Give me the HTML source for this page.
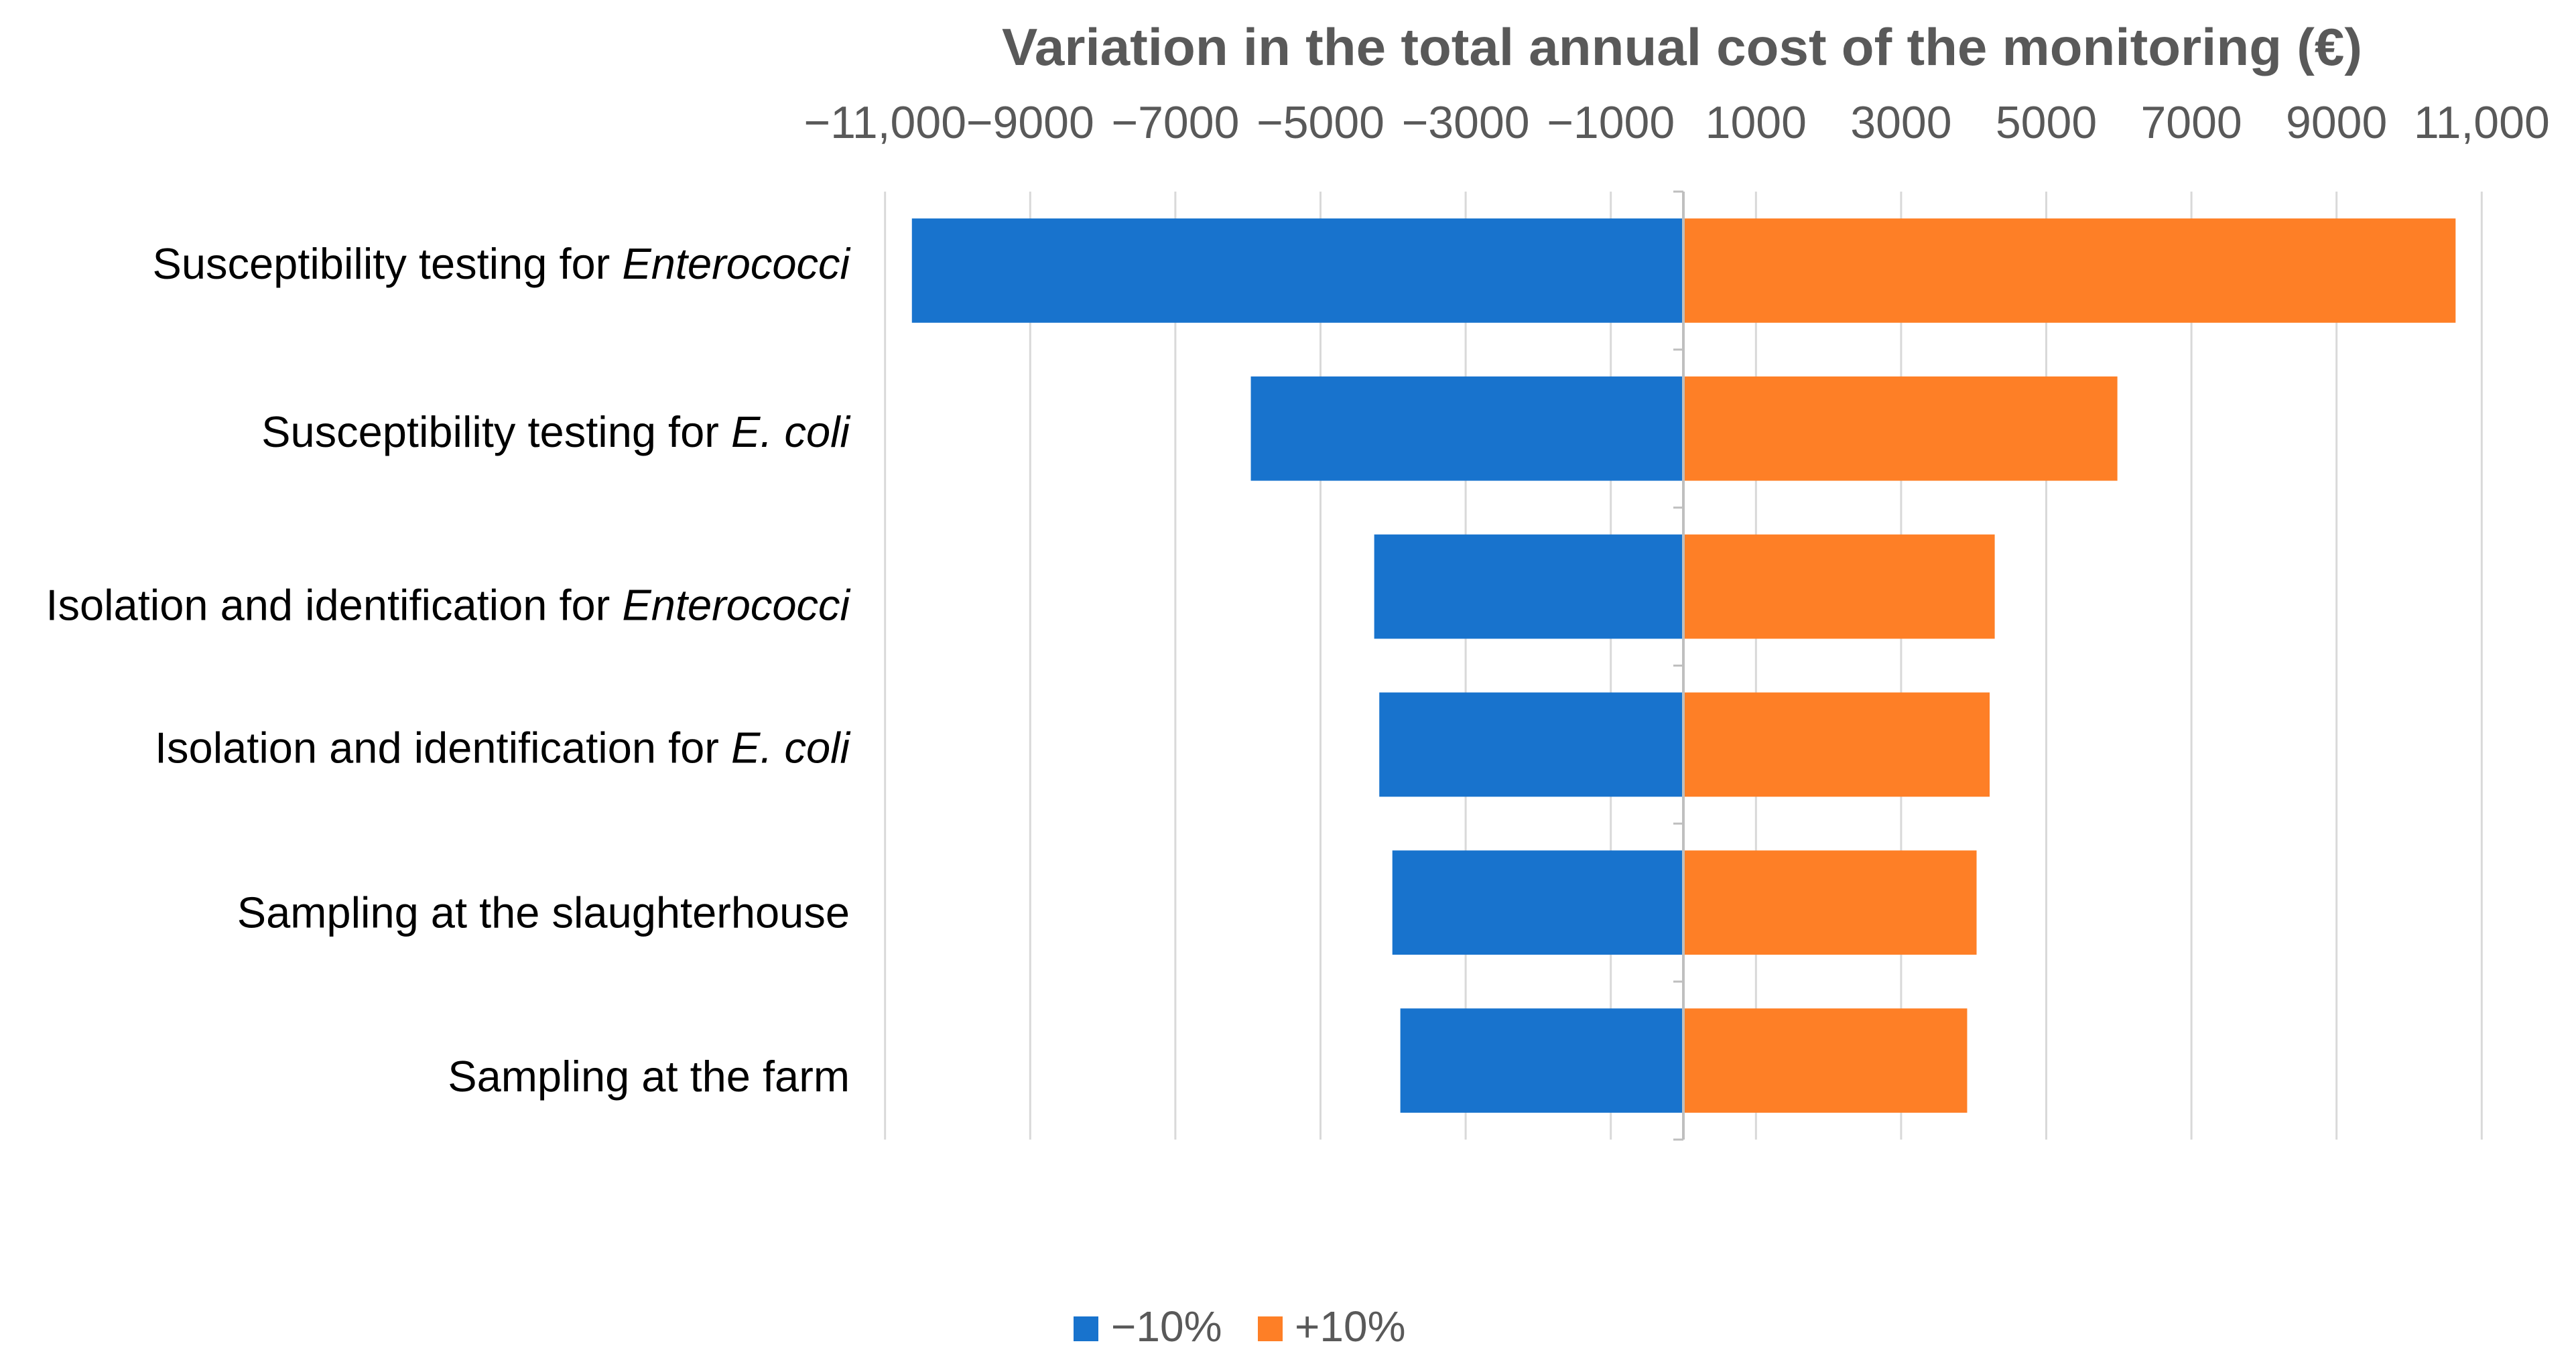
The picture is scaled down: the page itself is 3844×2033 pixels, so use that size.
<!DOCTYPE html>
<html><head><meta charset="utf-8"><style>
html,body{margin:0;padding:0;background:#fff;}
svg{display:block;}
</style></head><body>
<svg id="chart" width="3844" height="2033" viewBox="0 0 3844 2033" xmlns="http://www.w3.org/2000/svg">
<rect width="3844" height="2033" fill="#fff"/>
<text x="2510" y="97" text-anchor="middle" font-family="Liberation Sans, sans-serif" font-weight="bold" font-size="78" fill="#595959" textLength="2030" lengthAdjust="spacingAndGlyphs">Variation in the total annual cost of the monitoring (€)</text>
<g id="grid"></g>
<g id="xticks"></g>
<g id="bars"></g>
<g id="axis"></g>
<g id="cats"></g>
<g>
<g>
<rect x="1602" y="1965" width="37" height="37" fill="#1873CD"/>
<text x="1658" y="2002" font-family="Liberation Sans, sans-serif" font-size="64" fill="#595959">−10%</text>
</g>
<g>
<rect x="1877" y="1965" width="37" height="37" fill="#FE7F26"/>
<text x="1932" y="2002" font-family="Liberation Sans, sans-serif" font-size="64" fill="#595959">+10%</text>
</g>
</g>
</svg>
<script>
const categories = ["Susceptibility testing for |Enterococci", "Susceptibility testing for |E. coli", "Isolation and identification for |Enterococci", "Isolation and identification for |E. coli", "Sampling at the slaughterhouse|", "Sampling at the farm|"];
const minusValues = [-10630, -5960, -4260, -4190, -4010, -3900];
const plusValues = [10640, 5980, 4290, 4220, 4040, 3910];
const tickValues = [-11000, -9000, -7000, -5000, -3000, -1000, 1000, 3000, 5000, 7000, 9000, 11000];
const tickLabels = ["−11,000", "−9000", "−7000", "−5000", "−3000", "−1000", "1000", "3000", "5000", "7000", "9000", "11,000"];

const NS = "http://www.w3.org/2000/svg";
const X0 = 2512, PXU = 0.1083;
const plotTop = 286, plotBottom = 1701;
const band = (plotBottom - plotTop) / categories.length;
const barH = band * 0.66;
const labelShift = [0, 15, 38, 15, 25, 34];
function x(v){ return X0 + v * PXU; }
function yBand(i){ return plotTop + i * band; }
function mk(tag, attrs, parent){ const e = document.createElementNS(NS, tag); for (const k in attrs) e.setAttribute(k, attrs[k]); parent.appendChild(e); return e; }

const grid = document.getElementById('grid');
const xt = document.getElementById('xticks');
tickValues.forEach((v, i) => {
  const l = mk('line', {x1: x(v), x2: x(v), y1: plotTop, y2: plotBottom, stroke: '#d9d9d9', 'stroke-width': 3}, grid);
  
  
  const t = mk('text', {x: x(v), y: 206, 'text-anchor': 'middle', 'font-family': 'Liberation Sans, sans-serif', 'font-size': 68, fill: '#595959'}, xt);
  t.textContent = tickLabels[i];
  
  
});

const bars = document.getElementById('bars');
const cats = document.getElementById('cats');
categories.forEach((c, i) => {
  const y = yBand(i) + (band - barH) / 2;
  const b1 = mk('rect', {x: x(minusValues[i]), y: y, width: x(0) - x(minusValues[i]), height: barH, fill: '#1873CD'}, bars);
  
  
  const b2 = mk('rect', {x: x(0), y: y, width: x(plusValues[i]) - x(0), height: barH, fill: '#FE7F26'}, bars);
  
  
  const parts = c.split('|');
  const t = mk('text', {x: 1268, y: yBand(i) + band / 2 + 12 + labelShift[i], 'text-anchor': 'end', 'font-family': 'Liberation Sans, sans-serif', 'font-size': 65, fill: '#000'}, cats);
  
  
  const s1 = mk('tspan', {}, t); s1.textContent = parts[0];
  if (parts[1]) { const s2 = mk('tspan', {'font-style': 'italic'}, t); s2.textContent = parts[1]; }
});

const axis = document.getElementById('axis');
const al = mk('line', {x1: X0, x2: X0, y1: plotTop, y2: plotBottom, stroke: '#bfbfbf', 'stroke-width': 4}, axis);


for (let i = 0; i <= categories.length; i++) {
  const tk = mk('line', {x1: X0 - 15, x2: X0, y1: yBand(i), y2: yBand(i), stroke: '#bfbfbf', 'stroke-width': 3}, axis);
  
  
}
</script>
</body></html>
